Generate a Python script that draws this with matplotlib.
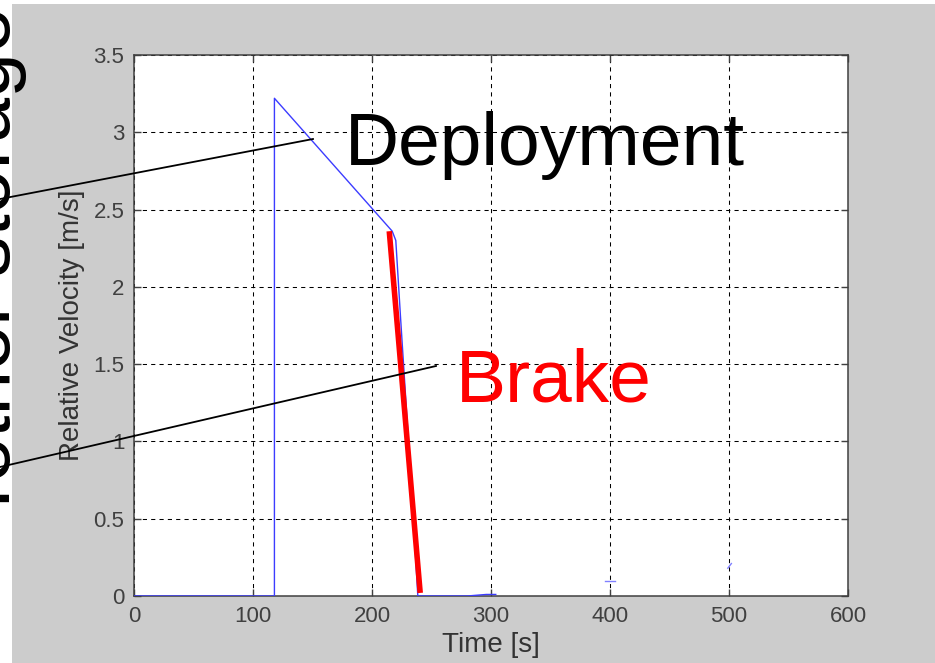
import numpy as np
import matplotlib.pyplot as plt
from matplotlib.patches import Rectangle
from matplotlib.lines import Line2D

plt.rcParams["font.family"] = ["Liberation Sans", "DejaVu Sans"]

# blue trace: relative velocity vs time
t_vel = [0, 118, 118, 217, 220, 224, 229, 234, 238.5, 280, 296, 304]
v_vel = [0, 0, 3.22, 2.36, 2.3, 1.8, 1.2, 0.6, 0.0, 0.0, 0.01, 0.01]
# faint leftover pieces of the trace
t_bits = [[396, 404], [499, 502]]
v_bits = [[0.10, 0.10], [0.18, 0.21]]
# red brake line
t_brake = [214.5, 240.5]
v_brake = [2.36, 0.02]

W, H = 935, 663
fig = plt.figure(figsize=(W / 100, H / 100), dpi=100, facecolor="#cccccc")
# white margin on the left / top
fig.patches.append(Rectangle((0, 0), 12 / W, 1, transform=fig.transFigure,
                             facecolor="white", edgecolor="none", zorder=0))
fig.patches.append(Rectangle((0, 1 - 4 / H), 1, 4 / H, transform=fig.transFigure,
                             facecolor="white", edgecolor="none", zorder=0))

ax = fig.add_axes([134 / W, 1 - 596 / H, (848 - 134) / W, (596 - 55) / H])
ax.set_facecolor("white")
ax.plot(t_vel, v_vel, color="#3c3cff", lw=1.0, zorder=3)
for tb, vb in zip(t_bits, v_bits):
    ax.plot(tb, vb, color="#8080ff", lw=1.0, zorder=3)
ax.plot(t_brake, v_brake, color="#ff0000", lw=4.0, zorder=4, solid_capstyle="butt")

ax.set_xlim(0, 600)
ax.set_ylim(0, 3.5)
ax.set_xticks(np.arange(0, 601, 100))
ax.set_yticks(np.arange(0, 3.51, 0.5))
ax.set_yticklabels(["0", "0.5", "1", "1.5", "2", "2.5", "3", "3.5"])
ax.grid(True, color="black", linestyle=(0, (4, 4)), lw=0.75)
ax.tick_params(direction="in", length=5, width=1, color="#404040",
               top=True, right=True, labelsize=16, labelcolor="#404040", pad=7)
for sp in ax.spines.values():
    sp.set_color("#404040")
    sp.set_linewidth(1.1)

ax.set_xlabel("Time [s]", fontsize=20, color="#333333", labelpad=4)
ax.set_ylabel("Relative Velocity [m/s]", fontsize=20, color="#333333", labelpad=6)


# annotation texts / leader lines in pixel coordinates (origin top-left)
def px(x, y):
    return x / W, 1 - y / H


fig.text(*px(345, 165), "Deployment", fontsize=54, color="black",
         ha="left", va="baseline")
fig.text(*px(456, 402), "Brake", fontsize=54, color="#ff0000",
         ha="left", va="baseline")
fig.text(*px(10, 522), "Tether storage", fontsize=58, color="black",
         rotation=90, rotation_mode="anchor", ha="left", va="baseline", zorder=5)

for (x0, y0), (x1, y1) in [((0, 199), (313, 139)), ((0, 467), (436, 366))]:
    a, b = px(x0, y0)
    c, d = px(x1, y1)
    fig.add_artist(Line2D([a, c], [b, d], transform=fig.transFigure,
                          color="black", lw=1.3, zorder=6))

fig.savefig("out.png", dpi=100, facecolor=fig.get_facecolor())
